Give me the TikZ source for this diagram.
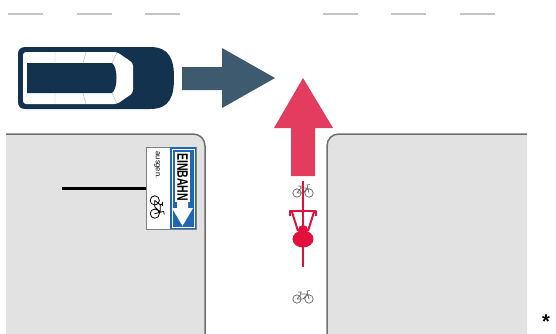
\documentclass[tikz,border=0pt]{standalone}
\usepackage{fontspec}
\setmainfont{Liberation Sans}
\usetikzlibrary{positioning}
\definecolor{carblue}{HTML}{12324E}
\definecolor{arrowslate}{HTML}{3E5A6E}
\definecolor{arrowred}{HTML}{E43C5E}
\definecolor{riderred}{HTML}{E2103C}
\definecolor{blockgray}{HTML}{E2E2E2}
\definecolor{kerbgray}{HTML}{6E6E6E}
\definecolor{signblue}{HTML}{1F66B5}
\definecolor{lanegray}{HTML}{C4C4C4}
\newcommand{\bicycle}[3]{%
	\begin{scope}[shift={#1}, #3]
		\draw[draw=#2, line width=0.8pt, line cap=round, line join=round]
			(-6,2) circle (4.2) (6,2) circle (4.2)
			(-6,2) -- (-2,-3) -- (4.5,-3) -- (0,2) -- cycle
			(-2,-3) -- (-2.8,-5) (-4.5,-5) -- (-1.2,-5)
			(6,2) -- (4,-6) -- (6.5,-6.5);
	\end{scope}}

\begin{document}
\begin{tikzpicture}[
		x=1pt, y=-1pt,
		lane/.style={draw=lanegray, line width=2pt},
		kerb/.style={draw=kerbgray, line width=1.5pt},
		ground/.style={fill=blockgray},
		rider/.style={draw=riderred, line width=2pt},
		signtext/.style={inner sep=0pt, rotate=-90}
	]
		\useasboundingbox (0,0) rectangle (556,333);
		\clip (0,0) rectangle (556,333);

		\foreach \x in {8,77,145,323,391,460}
			\draw[lane] (\x,13.5) -- ++(35,0);

		\fill[ground] (6,340) -- (6,134) -- (193,134)
			.. controls (200,134) and (205,139) .. (205,146) -- (205,340) -- cycle;
		\draw[kerb] (6,134) -- (193,134)
			.. controls (200,134) and (205,139) .. (205,146) -- (205,340);
		\fill[ground] (527,340) -- (527,134) -- (339,134)
			.. controls (332,134) and (327,139) .. (327,146) -- (327,340) -- cycle;
		\draw[kerb] (527,134) -- (339,134)
			.. controls (332,134) and (327,139) .. (327,146) -- (327,340);

		\fill[carblue] (18,54) .. controls (18,49) and (21,47) .. (26,47) -- (150,47)
			.. controls (170,47) and (174,60) .. (174,78)
			.. controls (174,96) and (170,109) .. (150,109) -- (26,109)
			.. controls (21,109) and (18,107) .. (18,102) -- cycle;
		\fill[white, rounded corners=3pt] (23,52) -- (117,52) -- (133,63)
			-- (133,93) -- (117,104) -- (23,104) -- cycle;
		\fill[carblue] (27,63) -- (112,63) .. controls (118,67) and (118,89) .. (112,93)
			-- (27,93) -- cycle;
		\draw[black!30, line width=0.4pt]
			(55,52) -- (55,63) (55,93) -- (55,104)
			(86,52) -- (83,63) (83,93) -- (86,104)
			(117,52) -- (112,63) (112,93) -- (117,104);

		\fill[arrowslate] (182,67) -- (222,67) -- (222,48) -- (275,78)
			-- (222,108) -- (222,90) -- (182,90) -- cycle;
		\fill[arrowred] (291,176) -- (291,128) -- (274,128) -- (303,78)
			-- (333,128) -- (315,128) -- (315,176) -- cycle;

		\bicycle{(303,191)}{black!55}{}
		\bicycle{(303,297)}{black!55}{}

		\draw[rider] (303,181) -- (303,267);
		\draw[rider, line join=round] (290,216) -- (290,211) -- (316,211) -- (316,216);
		\draw[rider] (292,212) -- (298,231) (314,212) -- (308,231);
		\fill[riderred] (303,239) ellipse (10.5 and 8.5);
		\fill[riderred] (303,230) circle (5);

		\draw[line width=3pt] (62,188) -- (146,188);
		\fill[white] (146,147) rectangle (196,229);
		\draw[black!50, line width=0.4pt] (146,147) rectangle (196,229);
		\fill[signblue] (170,147) rectangle (196,229);
		\draw[white, line width=0.6pt] (172,149) rectangle (194,227);
		\fill[white] (175,152) rectangle (190,202);
		\fill[white] (177,201) -- (188,201) -- (188,208) -- (193,208)
			-- (182.5,226) -- (172,208) -- (177,208) -- cycle;
		\node[signtext] (einbahn) at (182.5,177)
			{\scalebox{1}[1.45]{\fontsize{10.5}{11}\selectfont\bfseries EINBAHN}};
		\node[signtext] (ausgen) at (157,165)
			{\fontsize{7.5}{8}\selectfont ausgen.};
		\bicycle{(157,207)}{black}{rotate=-90, scale=1.1}

		\node[inner sep=0pt, anchor=base] (note) at (546,328)
			{\fontsize{20}{20}\selectfont\bfseries *};
\end{tikzpicture}
\end{document}
